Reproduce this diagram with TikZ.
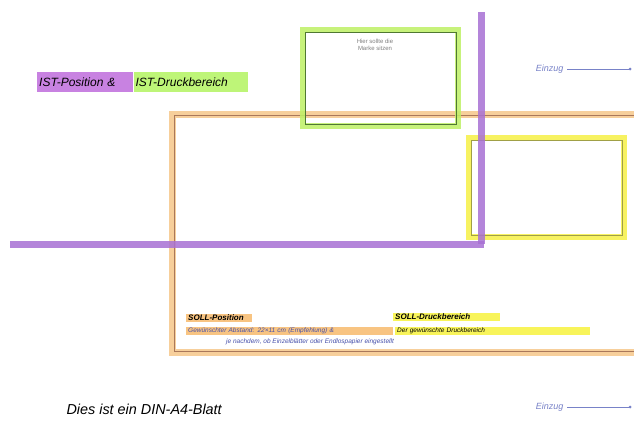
\documentclass[tikz,border=0pt]{standalone}
\usepackage{fontspec}
\setmainfont{Liberation Sans}
\begin{document}
\begin{tikzpicture}[x=1pt,y=-1pt,
  hl/.style={inner xsep=2pt, inner ysep=1.5pt, anchor=west, font=\itshape, align=left},
  markbox/.style={line width=6pt, color=limeC, opacity=0.85},
  markin/.style={line width=0.9pt, color=darkG},
  ist/.style={line width=7pt, color=purpleC, opacity=0.85},
  soll/.style={line width=7pt, color=orangeC, opacity=0.8},
  sollin/.style={line width=0.8pt, color=brownC},
  yel/.style={line width=6pt, color=yellowC, opacity=0.85},
  yelin/.style={line width=0.8pt, color=oliveC},
  einz/.style={color=blueC, font=\itshape\small, anchor=east},
  einzline/.style={draw=blueC, line width=0.6pt}
]
\definecolor{purpleC}{RGB}{168,112,212}
\definecolor{limeC}{RGB}{190,240,100}
\definecolor{darkG}{RGB}{80,120,50}
\definecolor{orangeC}{RGB}{246,196,130}
\definecolor{brownC}{RGB}{170,120,90}
\definecolor{yellowC}{RGB}{246,240,70}
\definecolor{oliveC}{RGB}{160,160,70}
\definecolor{blueC}{RGB}{120,130,200}
\definecolor{textBlue}{RGB}{70,80,170}
\definecolor{hlPurple}{RGB}{200,130,225}
\definecolor{hlGreen}{RGB}{190,245,120}
\definecolor{hlOrange}{RGB}{248,196,130}
\definecolor{hlYellow}{RGB}{248,244,90}
\useasboundingbox (0,0) rectangle (634,421);
\fill[white] (0,0) rectangle (634,421);

% SOLL-Position frame (orange, open to the right)
\draw[soll] (634,114) -- (172,114) -- (172,352) -- (634,352);
\draw[sollin] (634,115) -- (174,115) -- (174,351) -- (634,351);

% Marke (green)
\draw[markbox] (303,30) rectangle (458,126);
\draw[markin] (305,32) rectangle (456,124);
\node[font=\fontsize{6}{7}\selectfont, text=gray, align=center] (marke) at (375,45) {Hier sollte die\\Marke sitzen};

% SOLL-Druckbereich (yellow)
\draw[yel] (469,138) rectangle (624,237);
\draw[yelin] (471,140) rectangle (622,235);

% IST lines (purple)
\draw[ist] (481,12) -- (481,244);
\draw[ist] (10,244) -- (484,244);

% IST label
\node[hl, fill=hlPurple, font=\itshape\large, text width=92pt, minimum height=20pt] (istpos) at (37,82) {IST-Position \&};
\node[hl, fill=hlGreen, font=\itshape\large, text width=110pt, minimum height=20pt] (istdruck) at (istpos.east) {IST-Druckbereich};

% Einzug arrows
\node[einz] (einz1) at (567,69) {Einzug};
\coordinate (e1) at (630,69);
\draw[einzline] (einz1.east) -- (e1);
\fill[blueC] (e1) circle (1.5pt);
\node[einz] (einz2) at (567,407) {Einzug};
\coordinate (e2) at (630,407);
\draw[einzline] (einz2.east) -- (e2);
\fill[blueC] (e2) circle (1.5pt);

% SOLL labels
\node[hl, fill=hlOrange, font=\itshape\footnotesize\bfseries, inner ysep=1pt, text width=62pt] (sollpos) at (186,318) {SOLL-Position};
\node[hl, fill=hlOrange, font=\itshape\fontsize{6.5}{7}\selectfont, inner ysep=1pt, text=textBlue, text width=203pt] (sollpos2) at (186,331) {Gewünschter Abstand: 22×11 cm (Empfehlung) \&};
\node[hl, font=\itshape\fontsize{6.5}{7}\selectfont, inner ysep=1pt, text=textBlue] (sollpos3) at (224,342) {je nachdem, ob Einzelblätter oder Endlospapier eingestellt};
\node[hl, fill=hlYellow, font=\itshape\footnotesize\bfseries, inner ysep=1pt, text width=103pt] (solldr) at (393,317) {SOLL-Druckbereich};
\node[hl, fill=hlYellow, font=\itshape\fontsize{6.5}{7}\selectfont, inner ysep=1pt, text width=191pt] (solldr2) at (395,331) {Der gewünschte Druckbereich};

% DIN-A4
\node[font=\itshape\Large, anchor=west] (din) at (63,409) {Dies ist ein DIN-A4-Blatt};
\end{tikzpicture}
\end{document}
